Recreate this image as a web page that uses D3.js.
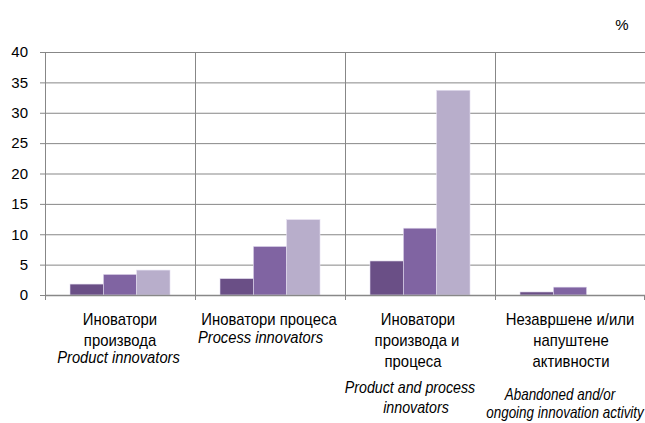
<!DOCTYPE html>
<html>
<head>
<meta charset="utf-8">
<script src="https://cdn.jsdelivr.net/npm/d3@7"></script>
<style>
  html, body { margin: 0; padding: 0; background: #fff; overflow: hidden; }
  svg { display: block; }
  text { font-family: "Liberation Sans", Arial, sans-serif; fill: #000; }
</style>
</head>
<body>
<svg id="chart" width="645" height="423"></svg>
<script>
// ---- data ----
const categories = ["Иноватори производа", "Иноватори процеса", "Иноватори производа и процеса", "Незавршене и/или напуштене активности"];
const seriesNames = ["Серија 1", "Серија 2", "Серија 3"];
const series1 = [1.8, 2.7, 5.6, 0.5];
const series2 = [3.4, 8.0, 11.0, 1.3];
const series3 = [4.1, 12.4, 33.7, 0];
const yTicks = [0, 5, 10, 15, 20, 25, 30, 35, 40];
const labelsSr = [["Иноватори", "производа"], ["Иноватори процеса"], ["Иноватори", "производа и", "процеса"], ["Незавршене и/или", "напуштене", "активности"]];
const labelsEn = [["Product innovators"], ["Process innovators"], ["Product and process", "innovators"], ["Abandoned and/or", "ongoing innovation activity"]];
const unitLabel = "%";

// ---- layout / style ----
const colors = ["#6a4f86", "#8064a2", "#b8aecb"];
const srBase = 325, srStep = 21, srScale = 0.93;
const srDx = [[0, 0], [-1], [-2, -3, -7], [0, 1, 1]];
const enStart = [363, 343, 393, 400];
const enStep = [19, 19, 20, 17.5];
const enScale = [0.92, 0.92, 0.89, 0.84];
const enDx = [[-1.5], [-9.5], [-10, -4], [-10, -5]];
const fontPx = 16;

const svg = d3.select("#chart");
const x0 = d3.scaleBand().domain(categories).range([45, 645]).padding(0);
const x1 = d3.scaleBand().domain(seriesNames).range([x0.bandwidth() / 6, x0.bandwidth() * 5 / 6]).padding(0);
const y = d3.scaleLinear().domain([0, 40]).range([295, 52]);

const gridColor = "#878787";

// horizontal gridlines + y axis ticks
const yAxis = d3.axisLeft(y).tickValues(yTicks).tickSize(5).tickPadding(12).tickFormat(d3.format("d"));
const gy = svg.append("g").attr("transform", "translate(45,0)").call(yAxis);
gy.select(".domain").remove();
gy.selectAll(".tick line").attr("stroke", gridColor).attr("x2", -5).attr("x1", 600);
gy.selectAll(".tick text").style("font-size", "15px").attr("fill", "#000");

// vertical separators (and y axis line)
const bounds = categories.map(c => x0(c));
svg.append("g").selectAll("line").data(bounds).join("line")
  .attr("x1", d => d + 0.5).attr("x2", d => d + 0.5)
  .attr("y1", y(40)).attr("y2", y(0) + 5)
  .attr("stroke", gridColor).attr("stroke-width", 1);

// bars
const seriesData = [series1, series2, series3];
const g = svg.append("g");
categories.forEach((c, i) => {
  seriesData.forEach((s, j) => {
    if (s[i] <= 0) return;
    g.append("rect")
      .attr("x", x0(c) + x1(seriesNames[j]))
      .attr("y", y(s[i]))
      .attr("width", x1.bandwidth())
      .attr("height", y(0) - y(s[i]))
      .attr("fill", colors[j])
      .attr("stroke", "#e4def0")
      .attr("stroke-width", 0.6);
  });
});

// bottom axis
const xAxis = d3.axisBottom(x0).tickSize(0).tickFormat("");
const gx = svg.append("g").attr("transform", `translate(0,${y(0)})`).call(xAxis);
gx.select(".domain").attr("stroke", "#888").attr("stroke-width", 1.5);
gx.selectAll(".tick").remove();
svg.append("line").attr("x1", 644.5).attr("x2", 644.5).attr("y1", y(0)).attr("y2", y(0) + 5).attr("stroke", gridColor);

// category labels
categories.forEach((c, i) => {
  const cx = x0(c) + x0.bandwidth() / 2;
  labelsSr[i].forEach((t, k) => {
    svg.append("text")
      .attr("transform", `translate(${cx + srDx[i][k]},${srBase + k * srStep}) scale(${srScale},1)`)
      .attr("text-anchor", "middle").style("font-size", fontPx + "px").text(t);
  });
  labelsEn[i].forEach((t, k) => {
    svg.append("text")
      .attr("transform", `translate(${cx + enDx[i][k]},${enStart[i] + k * enStep[i]}) scale(${enScale[i]},1)`)
      .attr("text-anchor", "middle").style("font-size", fontPx + "px").style("font-style", "italic").text(t);
  });
});

// unit label
svg.append("text").attr("x", 622).attr("y", 30).attr("text-anchor", "middle").style("font-size", "15px").text(unitLabel);
</script>
</body>
</html>
